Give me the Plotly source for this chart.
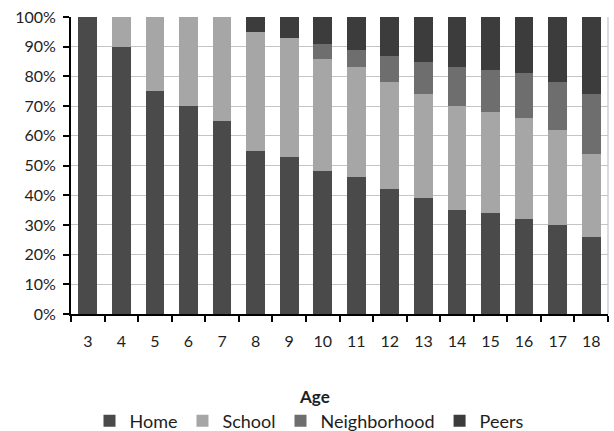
import plotly.graph_objects as go

ages = ["3", "4", "5", "6", "7", "8", "9", "10", "11", "12", "13", "14", "15", "16", "17", "18"]
home = [100, 90, 75, 70, 65, 55, 53, 48, 46, 42, 39, 35, 34, 32, 30, 26]
school = [0, 10, 25, 30, 35, 40, 40, 38, 37, 36, 35, 35, 34, 34, 32, 28]
neighborhood = [0, 0, 0, 0, 0, 0, 0, 5, 6, 9, 11, 13, 14, 15, 16, 20]
peers = [0, 0, 0, 0, 0, 5, 7, 9, 11, 13, 15, 17, 18, 19, 22, 26]

y_ticks = [0, 10, 20, 30, 40, 50, 60, 70, 80, 90, 100]
y_tick_labels = [f"{v}%" for v in y_ticks]

series = [
    ("Home", home, "#4a4a4a"),
    ("School", school, "#a6a6a6"),
    ("Neighborhood", neighborhood, "#6e6e6e"),
    ("Peers", peers, "#3c3c3c"),
]

FONT = "Lato, Carlito, Calibri, sans-serif"
TXT = "#1e1e1e"

W, H = 614, 431

fig = go.Figure()
for name, vals, color in series:
    fig.add_trace(go.Bar(
        x=ages, y=vals, name=name,
        marker=dict(color=color, line=dict(width=0)),
    ))

fig.update_layout(
    barmode="stack",
    bargap=0.44,
    width=W, height=H,
    margin=dict(l=71, r=6, t=17, b=117, autoexpand=False),
    plot_bgcolor="white",
    paper_bgcolor="white",
    font=dict(family=FONT, color=TXT, size=16),
    showlegend=True,
    legend=dict(
        orientation="h",
        traceorder="normal",
        xref="container",
        x=309 / W, xanchor="center",
        y=(314 - 421) / 297, yanchor="middle",
        font=dict(size=18, family=FONT, color=TXT),
        itemwidth=30,
        tracegroupgap=0,
        bgcolor="rgba(0,0,0,0)",
    ),
    xaxis=dict(
        type="category",
        showline=True, linecolor="black", linewidth=2,
        ticks="outside", ticklen=6, tickcolor="black", tickwidth=2,
        tickson="boundaries",
        showgrid=False,
        tickfont=dict(size=16, family=FONT, color=TXT),
        ticklabelstandoff=12,
        fixedrange=True,
    ),
    yaxis=dict(
        range=[0, 100],
        tickvals=y_ticks, ticktext=y_tick_labels,
        showline=True, linecolor="black", linewidth=2,
        ticks="outside", ticklen=6, tickcolor="black", tickwidth=2,
        showgrid=True, gridcolor="#c4c4c4", gridwidth=1.2,
        zeroline=False,
        tickfont=dict(size=16, family=FONT, color=TXT),
        ticklabelstandoff=4,
        fixedrange=True,
    ),
    annotations=[dict(
        text="<b>Age</b>", xref="paper", yref="paper",
        x=(314 - 71) / 537, y=-82 / 297,
        xanchor="center", yanchor="middle", showarrow=False,
        font=dict(size=17, family=FONT, color=TXT),
    )],
    shapes=[dict(
        type="line", xref="paper", yref="paper",
        x0=1, x1=1, y0=0, y1=1,
        line=dict(color="#c4c4c4", width=1.2), layer="below",
    )],
)

fig.write_html(
    "out.html",
    config={"displayModeBar": False},
    post_script="document.body.style.margin='0';document.body.style.overflow='hidden';",
)
